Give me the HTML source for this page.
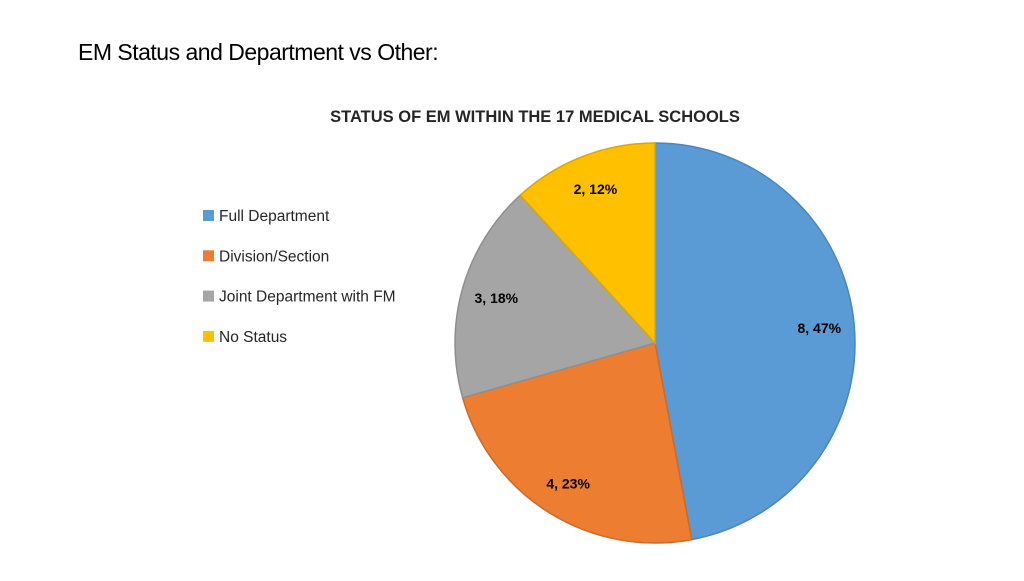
<!DOCTYPE html>
<html><head><meta charset="utf-8"><style>
body{margin:0;width:1024px;height:576px;background:#fff;overflow:hidden;font-family:"Liberation Sans",Calibri,sans-serif;}
</style></head><body>
<svg width="1024" height="576" xmlns="http://www.w3.org/2000/svg">
<text x="78" y="60" font-size="23" fill="#000" letter-spacing="-0.5">EM Status and Department vs Other:</text>
<text x="535" y="122" font-size="16.5" font-weight="bold" fill="#262626" text-anchor="middle">STATUS OF EM WITHIN THE 17 MEDICAL SCHOOLS</text>
<g id="legend"></g>
<g id="pie"></g>
<g id="labels"></g>
</svg>
<script>
const categories=["Full Department","Division/Section","Joint Department with FM","No Status"];
const values=[8,4,3,2];
const percentLabels=["47%","23%","18%","12%"];
const colors=["#5B9BD5","#ED7D31","#A5A5A5","#FFC000"];
const strokes=["#4a86bd","#d06a25","#8f8f8f","#dda800"];
const NS="http://www.w3.org/2000/svg";
const cx=655,cy=343,R=200,LR=165;
const total=values.reduce((a,b)=>a+b,0);
const pie=document.getElementById('pie'),labels=document.getElementById('labels'),legend=document.getElementById('legend');
function pt(a,r){return [cx+r*Math.sin(a),cy-r*Math.cos(a)];}
let a0=0;
values.forEach((v,i)=>{
  const a1=a0+v/total*2*Math.PI;
  const p0=pt(a0,R),p1=pt(a1,R);
  const large=(a1-a0)>Math.PI?1:0;
  const path=document.createElementNS(NS,'path');
  path.setAttribute('d',`M${cx},${cy} L${p0[0]},${p0[1]} A${R},${R} 0 ${large} 1 ${p1[0]},${p1[1]} Z`);
  path.setAttribute('fill',colors[i]);
  path.setAttribute('stroke',strokes[i]);
  path.setAttribute('stroke-width','1.5');
  
  
  pie.appendChild(path);
  const m=pt((a0+a1)/2,LR);
  const t=document.createElementNS(NS,'text');
  t.setAttribute('x',m[0]);t.setAttribute('y',m[1]+5);
  t.setAttribute('text-anchor','middle');t.setAttribute('font-size','14');t.setAttribute('font-weight','bold');t.setAttribute('fill','#000');
  t.textContent=v+', '+percentLabels[i];
  
  
  labels.appendChild(t);
  const y=216+i*40.3;
  const r=document.createElementNS(NS,'rect');
  r.setAttribute('x',203);r.setAttribute('y',y-6);r.setAttribute('width',11);r.setAttribute('height',11);r.setAttribute('fill',colors[i]);
  
  
  legend.appendChild(r);
  const lt=document.createElementNS(NS,'text');
  lt.setAttribute('x',219);lt.setAttribute('y',y+5);lt.setAttribute('font-size','15.5');lt.setAttribute('fill','#262626');
  lt.textContent=categories[i];
  
  
  legend.appendChild(lt);
  a0=a1;
});
</script>
</body></html>
